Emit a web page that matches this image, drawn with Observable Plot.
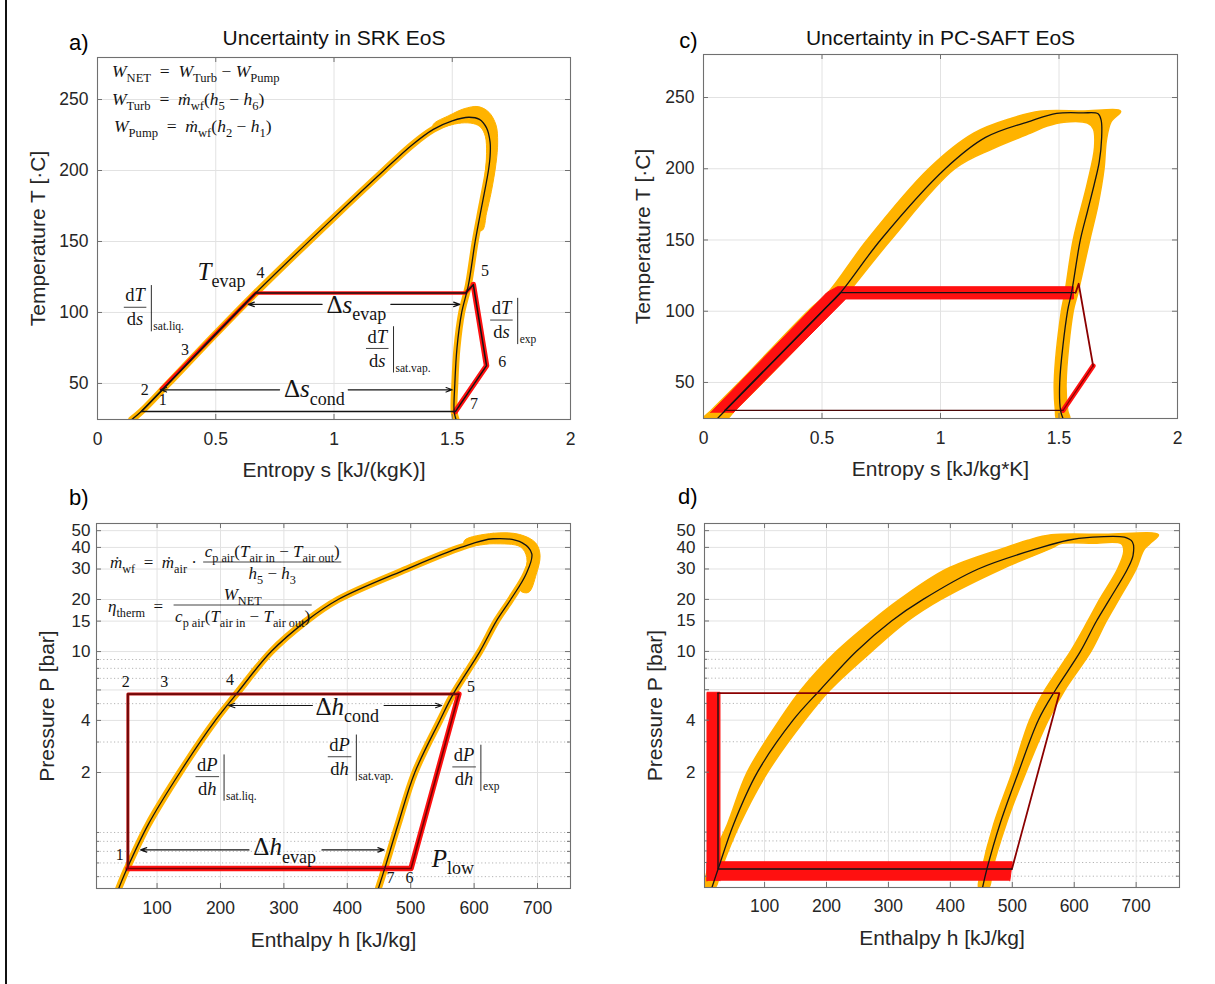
<!DOCTYPE html>
<html><head><meta charset="utf-8">
<script src="https://cdn.jsdelivr.net/npm/d3@7"></script>
<script src="https://cdn.jsdelivr.net/npm/@observablehq/plot@0.6"></script>
<style>
body{margin:0;background:#fff;}
#fig{position:relative;width:1215px;height:984px;overflow:hidden;background:#fff;font-family:"Liberation Sans",Arial,sans-serif;}
.panel{position:absolute;}
</style></head><body><div id="fig"></div><script>
// ---------------- DATA ----------------
// T-s axes
const tsTicksX = [0, 0.5, 1, 1.5, 2];
const tsTicksY = [50, 100, 150, 200, 250];
// P-h axes
const phTicksX = [100, 200, 300, 400, 500, 600, 700];
const phTicksY = [2, 4, 6, 10, 15, 20, 30, 40, 50];
const phMinorY = [0.5, 0.6, 0.7, 0.8, 0.9, 3, 5, 7, 8, 9];

// SRK, T-s  (s [kJ/kgK], T [C])
const srkDomeTS = [[0.145,24.6],[0.185,30.2],[0.30,50],[0.50,85],[0.669,113.7],[1.0,167],[1.211,200],[1.33,218],[1.42,229],[1.50,235],[1.57,237.5],[1.615,236],[1.645,230],[1.66,220],[1.66,210],[1.653,200],[1.625,175],[1.597,150],[1.568,119],[1.540,100],[1.52,75],[1.511,50],[1.508,30.2],[1.516,24.6]];
const srkBulgeTS = [[1.42,232.5],[1.49,239],[1.55,243.5],[1.61,245],[1.655,241],[1.685,232],[1.692,220],[1.685,205],[1.665,185],[1.645,170],[1.628,158],[1.603,158],[1.62,175],[1.637,195],[1.645,212],[1.64,224],[1.62,230.5],[1.59,233],[1.54,233.5],[1.48,231.5],[1.42,228.5]];
const srkCycleTS = [[0.185,30.2],[0.669,113.7],[1.556,113.7],[1.589,119.6],[1.645,62.5],[1.513,30.2],[0.185,30.2]];
const srkRedThinTS = [[0.27,46],[0.669,113.7],[1.556,113.7],[1.589,119.6]];
const srkRedThickTS = [[1.589,119.6],[1.645,62.5],[1.513,30.2]];
const srkArrowsTS = [{x1:0.95,x2:0.637,y:105.7},{x1:1.24,x2:1.532,y:105.7},{x1:0.77,x2:0.266,y:45.5},{x1:1.06,x2:1.50,y:45.5}];

// PC-SAFT, T-s
const pcDomeTS = [[0.059,24.7],[0.09,30],[0.208,50],[0.502,100],[0.578,113],[0.747,150],[1.02,200],[1.19,222],[1.38,233.5],[1.49,238.8],[1.60,239.2],[1.665,238.6],[1.678,234],[1.68,222],[1.67,205],[1.65,190],[1.62,170],[1.59,150],[1.553,113],[1.536,100],[1.503,50],[1.507,30],[1.517,24.7]];
const pcBandTS = [[0.0,24.7],[0.03,30],[0.15,50],[0.44,100],[0.525,113],[0.69,150],[0.95,200],[1.14,225],[1.30,235.5],[1.42,240.4],[1.60,240.6],[1.76,240.4],[1.72,233],[1.70,220],[1.69,200],[1.665,175],[1.63,150],[1.58,113],[1.56,100],[1.53,50],[1.537,30],[1.545,24.7],[1.49,24.7],[1.485,30],[1.48,50],[1.51,100],[1.525,113],[1.56,150],[1.62,190],[1.65,215],[1.645,228],[1.62,232],[1.52,232.7],[1.45,230],[1.38,225],[1.22,214],[1.06,200],[0.79,150],[0.61,113],[0.54,100],[0.25,50],[0.13,30],[0.10,24.7]];
const pcRedBandTS = [[0.03,28.8],[0.52,113],[0.565,117.2],[1.561,117.2],[1.561,108.6],[0.60,108.6],[0.125,28.8]];
const pcCycleBlackTS = [[0.09,30.4],[0.578,113],[1.57,113]];
const pcCycleDarkTS = [[1.57,113],[1.583,119.3],[1.644,61.7]];
const pcCycleRedTS = [[1.644,61.7],[1.517,30.4]];
const pcCycleBottomTS = [[1.517,30.4],[0.09,30.4]];

// SRK, P-h (h [kJ/kg], P [bar])
const srkDomePH = [[39.5,0.427],[52.7,0.557],[86,1],[136,2],[192,4],[225,5.68],[280,10],[335,15],[385.5,20],[494,30],[579,40],[630,44.9],[676,42.5],[691,36.7],[682,28.1],[657.7,20],[635,15],[609,10],[567,5.68],[546,4],[506.5,2],[480,1],[459,0.557],[449,0.427]];
const srkBulgePH = [[585,44],[630,48.3],[672,47.5],[697,42.5],[704,36],[698,28],[686,22],[673,22.5],[680,28],[683,35],[673,40.3],[630,42],[585,41]];
const srkCycleUpperPH = [[54,0.557],[54,5.68],[576,5.68]];
const srkCycleLowerPH = [[576,5.68],[500.5,0.557],[54,0.557]];
const srkArrowsPH = [{x1:345,x2:213,y:4.88},{x1:458,x2:549,y:4.88},{x1:245,x2:74,y:0.714},{x1:360,x2:458,y:0.714}];

// PC-SAFT, P-h
const pcDomePH = [[15,0.43],[25,0.55],[50,1],[88.5,2],[146,4],[190,6],[248,10],[305,15],[356,20],[445,30],[547,40],[590,44],[625,45.7],[681,45.8],[694,43],[695,36],[686,30],[657,20],[636,15],[610,10],[570,6],[542,4],[510,2],[480,1],[459,0.55],[452,0.43]];
const pcBandPH = [[5,0.43],[8,0.55],[40,1],[72,2],[124,4],[159,6],[216,10],[273,15],[318,20],[394,30],[490,40],[525,44],[563,47.3],[650,47.6],[736,47.3],[722,42],[712,38.5],[700,30],[672,20],[652,15],[627,10],[585,6],[558,4],[522,2],[490,1],[468,0.55],[462,0.43],[446,0.43],[451,0.55],[470,1],[500,2],[528,4],[553,6],[594,10],[622,15],[641,20],[670,30],[680,38],[676,42],[630,42.3],[577,42],[566,40],[483,30],[385,20],[331,15],[273,10],[206,6],[165,4],[105,2],[60,1],[30,0.55],[20,0.43]];
const pcRedVertPH = [[7,0.47],[7,5.8],[28,5.8],[28,0.47]];
const pcRedBottomPH = [[7,0.47],[7,0.606],[500,0.606],[496,0.47]];
const pcCycleBlackPH = [[24.8,5.73],[24.8,0.55],[499.4,0.55]];
const pcCycleDarkPH = [[24.8,5.73],[576,5.73],[499.4,0.55]];

// ---------------- STYLE ----------------
const ORANGE = "#FFB300", RED = "#FF1010", DARKRED = "#8B0000", INK = "#141414";
const GRID = "#e2e2e2", FRAME = "#707070", TXT = "#262626";
const SANS = "Liberation Sans, Arial, sans-serif";
const SERIF = "'Liberation Serif','DejaVu Serif',serif";
const X = d => d[0], Y = d => d[1];
const SMOOTH = "catmull-rom", SMOOTHC = "catmull-rom-closed";
const fig = document.getElementById("fig");

function place(svg, left, top) {
  const div = document.createElement("div");
  div.className = "panel"; div.style.left = left + "px"; div.style.top = top + "px";
  div.appendChild(svg); fig.appendChild(div);
}

function mtext(g, x, y, segs, size, anchor = "start") {
  const t = g.append("text").attr("x", x).attr("y", y).attr("font-family", SERIF)
    .attr("font-size", size).attr("text-anchor", anchor).attr("fill", INK);
  let shift = 0;
  for (const [str, kind] of segs) {
    const sub = kind === "s" || kind === "si";
    const target = sub ? size * 0.3 : 0;
    const sp = t.append("tspan").text(str);
    if (kind === "i" || kind === "si") sp.attr("font-style", "italic");
    if (sub) sp.attr("font-size", size * 0.72);
    if (target !== shift) { sp.attr("dy", target - shift); shift = target; }
  }
  return t;
}
function frac(g, cx, cy, num, den, size, left = false) {
  const fg = g.append("g");
  const n = mtext(fg, 0, cy - size * 0.32, num, size, "middle");
  const d = mtext(fg, 0, cy + size * 0.98, den, size, "middle");
  const w = Math.max(n.node().getComputedTextLength(), d.node().getComputedTextLength()) + 3;
  fg.append("line").attr("x1", -w / 2).attr("x2", w / 2).attr("y1", cy).attr("y2", cy)
    .attr("stroke", INK).attr("stroke-width", 0.8);
  const x = left ? cx + w / 2 : cx;
  fg.attr("transform", `translate(${x},0)`);
  return {w, x};
}
function deriv(g, cx, cy, v, sub, size) {
  const {w} = frac(g, cx, cy, [["d", "r"], [v[0], "i"]], [["d", "r"], [v[1], "i"]], size);
  const bx = cx + w / 2 + 5;
  g.append("line").attr("x1", bx).attr("x2", bx).attr("y1", cy - size * 1.2).attr("y2", cy + size * 1.3)
    .attr("stroke", INK).attr("stroke-width", 0.9);
  mtext(g, bx + 2, cy + size * 1.25, [[sub, "r"]], size * 0.62);
}
function label(plot, fn) {
  const sx = plot.scale("x"), sy = plot.scale("y");
  const g = d3.select(plot).append("g");
  fn(g, v => sx.apply(v), v => sy.apply(v));
}

function commonMarks(o) {
  const fw = o.width - o.ml - o.mr, fh = o.height - o.mt - o.mb;
  const tick = {stroke: FRAME, strokeWidth: 1};
  const marks = [
    Plot.frame({stroke: FRAME, strokeWidth: 1.1}),
    Plot.tickY(o.yt, {y: d => d, insetRight: fw - 5, ...tick}),
    Plot.tickY(o.yt, {y: d => d, insetLeft: fw - 5, ...tick}),
    Plot.tickX(o.xt, {x: d => d, insetTop: fh - 5, ...tick}),
    Plot.tickX(o.xt, {x: d => d, insetBottom: fh - 5, ...tick}),
    Plot.axisX(o.xt, {tickSize: 0, tickPadding: o.xpad, fontSize: 17.5, fill: TXT, tickFormat: d => String(d), label: null}),
    Plot.axisY(o.yt, {tickSize: 0, tickPadding: o.ypad, fontSize: o.yfs || 17.5, fill: TXT, tickFormat: d => String(d), label: null}),
    Plot.text([o.xlabel], {frameAnchor: "bottom", dy: o.xlabDy, fontSize: 21, fill: TXT, lineAnchor: "middle", textAnchor: "middle"}),
    Plot.text([o.ylabel], {frameAnchor: "left", dx: o.ylabDx, rotate: -90, fontSize: 21, fill: TXT, lineAnchor: "middle", textAnchor: "middle"}),
    Plot.text([o.tag], {frameAnchor: "top-left", dx: o.tagDx, dy: o.tagDy, fontSize: 22, fill: "#000", textAnchor: "end", lineAnchor: "middle"})
  ];
  if (o.title) marks.push(Plot.text([o.title], {frameAnchor: "top", dy: o.titleDy, fontSize: 21, fill: "#111", lineAnchor: "middle", textAnchor: "middle"}));
  if (o.minor) {
    marks.push(Plot.tickY(o.minor, {y: d => d, insetRight: fw - 3, ...tick}));
    marks.push(Plot.tickY(o.minor, {y: d => d, insetLeft: fw - 3, ...tick}));
  }
  return marks;
}
const svgStyle = {background: "transparent", overflow: "visible", fontFamily: SANS};
const EQ = "\u2002=\u2002", MI = " − ";

// ---------------- PANEL a ----------------
{
  const o = {width: 600, height: 490, ml: 97, mr: 30, mt: 57, mb: 71, xt: tsTicksX, yt: tsTicksY, xpad: 13, ypad: 9,
    xlabel: "Entropy s [kJ/(kgK)]", ylabel: "Temperature T [·C]", xlabDy: 51, ylabDx: -59,
    tag: "a)", tagDx: -9, tagDy: -15, title: "Uncertainty in SRK EoS", titleDy: -19};
  const plot = Plot.plot({
    width: o.width, height: o.height, marginLeft: o.ml, marginRight: o.mr, marginTop: o.mt, marginBottom: o.mb,
    style: svgStyle,
    x: {domain: [0, 2]}, y: {domain: [24.6, 279.6]},
    marks: [
      Plot.ruleX(tsTicksX, {stroke: GRID}),
      Plot.ruleY(tsTicksY, {stroke: GRID}),
      Plot.line(srkDomeTS, {x: X, y: Y, stroke: ORANGE, strokeWidth: 7, curve: SMOOTH, clip: true}),
      Plot.line(srkBulgeTS, {x: X, y: Y, fill: ORANGE, stroke: ORANGE, strokeWidth: 1, curve: SMOOTHC}),
      Plot.line(srkRedThinTS, {x: X, y: Y, stroke: RED, strokeWidth: 3.6}),
      Plot.line(srkRedThickTS, {x: X, y: Y, stroke: RED, strokeWidth: 5.5}),
      Plot.line(srkDomeTS, {x: X, y: Y, stroke: INK, strokeWidth: 1.3, curve: SMOOTH, clip: true}),
      Plot.line(srkCycleTS, {x: X, y: Y, stroke: INK, strokeWidth: 1.5}),
      Plot.arrow(srkArrowsTS, {x1: "x1", x2: "x2", y1: "y", y2: "y", stroke: INK, strokeWidth: 1.1, headLength: 9, headAngle: 40}),
      ...commonMarks(o)
    ]
  });
  place(plot, 0, 0);
  label(plot, (g, sx, sy) => {
    mtext(g, 112, 77, [["W","i"],["NET","s"],[EQ,"r"],["W","i"],["Turb","s"],[MI,"r"],["W","i"],["Pump","s"]], 17.5);
    mtext(g, 112, 105, [["W","i"],["Turb","s"],[EQ,"r"],["ṁ","i"],["wf","s"],["(","r"],["h","i"],["5","s"],[MI,"r"],["h","i"],["6","s"],[")","r"]], 17.5);
    mtext(g, 114, 132, [["W","i"],["Pump","s"],[EQ,"r"],["ṁ","i"],["wf","s"],["(","r"],["h","i"],["2","s"],[MI,"r"],["h","i"],["1","s"],[")","r"]], 17.5);
    mtext(g, sx(0.425), sy(122.6), [["T","i"],["evap","s"]], 25);
    mtext(g, sx(1.097), sy(99.5), [["Δ","r"],["s","i"],["evap","s"]], 25, "middle");
    mtext(g, sx(0.919), sy(40), [["Δ","r"],["s","i"],["cond","s"]], 25, "middle");
    deriv(g, sx(0.161), sy(103.3), ["T","s"], "sat.liq.", 18.5);
    deriv(g, sx(1.71), sy(94.3), ["T","s"], "exp", 18.5);
    deriv(g, sx(1.185), sy(74.3), ["T","s"], "sat.vap.", 18.5);
    const nums = [["4",0.674,124],["5",1.624,125],["3",0.355,69.6],["2",0.185,41.3],["1",0.261,34.2],["6",1.697,61.3],["7",1.577,31.8]];
    for (const [t, s, T] of nums) mtext(g, sx(s), sy(T), [[t,"r"]], 16);
  });
}

// ---------------- PANEL c ----------------
{
  const o = {width: 615, height: 490, ml: 103, mr: 38, mt: 54, mb: 72, xt: tsTicksX, yt: tsTicksY, xpad: 13, ypad: 9,
    xlabel: "Entropy s [kJ/kg*K]", ylabel: "Temperature T [·C]", xlabDy: 51, ylabDx: -60,
    tag: "c)", tagDx: -6, tagDy: -14, title: "Uncertainty in PC-SAFT EoS", titleDy: -16};
  const plot = Plot.plot({
    width: o.width, height: o.height, marginLeft: o.ml, marginRight: o.mr, marginTop: o.mt, marginBottom: o.mb,
    style: svgStyle,
    x: {domain: [0, 2]}, y: {domain: [24.7, 280.2]},
    marks: [
      Plot.ruleX(tsTicksX, {stroke: GRID}),
      Plot.ruleY(tsTicksY, {stroke: GRID}),
      Plot.line(pcBandTS, {x: X, y: Y, fill: ORANGE, stroke: ORANGE, strokeWidth: 1.5, curve: SMOOTHC, clip: true}),
      Plot.line(pcRedBandTS, {x: X, y: Y, fill: RED, stroke: RED, strokeWidth: 1}),
      Plot.line(pcCycleRedTS, {x: X, y: Y, stroke: RED, strokeWidth: 5}),
      Plot.line(pcDomeTS, {x: X, y: Y, stroke: INK, strokeWidth: 1.3, curve: SMOOTH, clip: true}),
      Plot.line(pcCycleBottomTS, {x: X, y: Y, stroke: "#4a0606", strokeWidth: 1.3}),
      Plot.line(pcCycleBlackTS, {x: X, y: Y, stroke: INK, strokeWidth: 1.3}),
      Plot.line(pcCycleDarkTS, {x: X, y: Y, stroke: DARKRED, strokeWidth: 1.8}),
      Plot.line(pcCycleRedTS, {x: X, y: Y, stroke: DARKRED, strokeWidth: 1.2}),
      ...commonMarks(o)
    ]
  });
  place(plot, 600, 0);
}

// ---------------- PANEL b ----------------
{
  const o = {width: 600, height: 504, ml: 96, mr: 30, mt: 43, mb: 96, xt: phTicksX, yt: phTicksY, minor: phMinorY, xpad: 13, ypad: 6, yfs: 17,
    xlabel: "Enthalpy h [kJ/kg]", ylabel: "Pressure P [bar]", xlabDy: 52, ylabDx: -49,
    tag: "b)", tagDx: -8, tagDy: -26};
  const plot = Plot.plot({
    width: o.width, height: o.height, marginLeft: o.ml, marginRight: o.mr, marginTop: o.mt, marginBottom: o.mb,
    style: svgStyle,
    x: {domain: [4.5, 752]}, y: {type: "log", domain: [0.427, 55]},
    marks: [
      Plot.ruleY(phMinorY, {stroke: "#b5b5b5", strokeDasharray: "1.2,2.4"}),
      Plot.ruleX(phTicksX, {stroke: GRID}),
      Plot.ruleY(phTicksY, {stroke: GRID}),
      Plot.line(srkDomePH, {x: X, y: Y, stroke: ORANGE, strokeWidth: 7, curve: SMOOTH, clip: true}),
      Plot.line(srkBulgePH, {x: X, y: Y, fill: ORANGE, stroke: ORANGE, strokeWidth: 1, curve: SMOOTHC}),
      Plot.line(srkCycleUpperPH, {x: X, y: Y, stroke: "#c01010", strokeWidth: 3}),
      Plot.line(srkCycleLowerPH, {x: X, y: Y, stroke: RED, strokeWidth: 5.5}),
      Plot.line(srkDomePH, {x: X, y: Y, stroke: INK, strokeWidth: 1.3, curve: SMOOTH, clip: true}),
      Plot.line(srkCycleUpperPH, {x: X, y: Y, stroke: "#6e0a0a", strokeWidth: 1.8}),
      Plot.line(srkCycleLowerPH, {x: X, y: Y, stroke: "#7a0000", strokeWidth: 1.6}),
      Plot.arrow(srkArrowsPH, {x1: "x1", x2: "x2", y1: "y", y2: "y", stroke: INK, strokeWidth: 1.1, headLength: 9, headAngle: 40}),
      ...commonMarks(o)
    ]
  });
  place(plot, 0, 480);
  label(plot, (g, sx, sy) => {
    const oy = 480;
    const t1 = mtext(g, 110, 568 - oy, [["ṁ","i"],["wf","s"],[EQ,"r"],["ṁ","i"],["air","s"],[" · ","r"]], 17);
    const cpair = [["c","i"],["p air","s"],["(","r"],["T","i"],["air in","s"],[MI,"r"],["T","i"],["air out","s"],[")","r"]];
    frac(g, 110 + t1.node().getComputedTextLength() + 2, 562 - oy, cpair, [["h","i"],["5","s"],[MI,"r"],["h","i"],["3","s"]], 17, true);
    const t2 = mtext(g, 108, 612 - oy, [["η","i"],["therm","s"],[EQ,"r"]], 17);
    frac(g, 108 + t2.node().getComputedTextLength() + 2, 605 - oy, [["W","i"],["NET","s"]], cpair, 17, true);
    mtext(g, sx(400.7), sy(4.28), [["Δ","r"],["h","i"],["cond","s"]], 25, "middle");
    mtext(g, sx(302), sy(0.66), [["Δ","r"],["h","i"],["evap","s"]], 25, "middle");
    mtext(g, sx(534), sy(0.567), [["P","i"],["low","s"]], 25);
    deriv(g, sx(180), sy(1.88), ["P","h"], "sat.liq.", 18.5);
    deriv(g, sx(388.6), sy(2.45), ["P","h"], "sat.vap.", 18.5);
    deriv(g, sx(585), sy(2.14), ["P","h"], "exp", 18.5);
    const nums = [["2",51.6,6.2],["3",112,6.2],["4",216,6.4],["5",596,5.8],["1",42,0.62],["7",469,0.456],["6",499,0.456]];
    for (const [t, h, P] of nums) mtext(g, sx(h), sy(P), [[t,"r"]], 16, "middle");
  });
}

// ---------------- PANEL d ----------------
{
  const o = {width: 615, height: 504, ml: 104, mr: 36, mt: 43, mb: 97, xt: phTicksX, yt: phTicksY, minor: phMinorY, xpad: 12, ypad: 9, yfs: 17,
    xlabel: "Enthalpy h [kJ/kg]", ylabel: "Pressure P [bar]", xlabDy: 51, ylabDx: -49,
    tag: "d)", tagDx: -7, tagDy: -27};
  const plot = Plot.plot({
    width: o.width, height: o.height, marginLeft: o.ml, marginRight: o.mr, marginTop: o.mt, marginBottom: o.mb,
    style: svgStyle,
    x: {domain: [3, 770]}, y: {type: "log", domain: [0.43, 55]},
    marks: [
      Plot.ruleY(phMinorY, {stroke: "#b5b5b5", strokeDasharray: "1.2,2.4"}),
      Plot.ruleX(phTicksX, {stroke: GRID}),
      Plot.ruleY(phTicksY, {stroke: GRID}),
      Plot.line(pcBandPH, {x: X, y: Y, fill: ORANGE, stroke: ORANGE, strokeWidth: 1.5, curve: SMOOTHC, clip: true}),
      Plot.line(pcRedVertPH, {x: X, y: Y, fill: RED, stroke: RED, strokeWidth: 1}),
      Plot.line(pcRedBottomPH, {x: X, y: Y, fill: RED, stroke: RED, strokeWidth: 1}),
      Plot.line(pcDomePH, {x: X, y: Y, stroke: INK, strokeWidth: 1.3, curve: SMOOTH, clip: true}),
      Plot.line(pcCycleDarkPH, {x: X, y: Y, stroke: DARKRED, strokeWidth: 1.8}),
      Plot.line(pcCycleBlackPH, {x: X, y: Y, stroke: INK, strokeWidth: 1.4}),
      ...commonMarks(o)
    ]
  });
  place(plot, 600, 480);
}

// figure border (left edge)
{
  const b = document.createElement("div");
  b.style.cssText = "position:absolute;left:5px;top:0;width:1.5px;height:984px;background:#111;";
  fig.appendChild(b);
}
</script></body></html>
